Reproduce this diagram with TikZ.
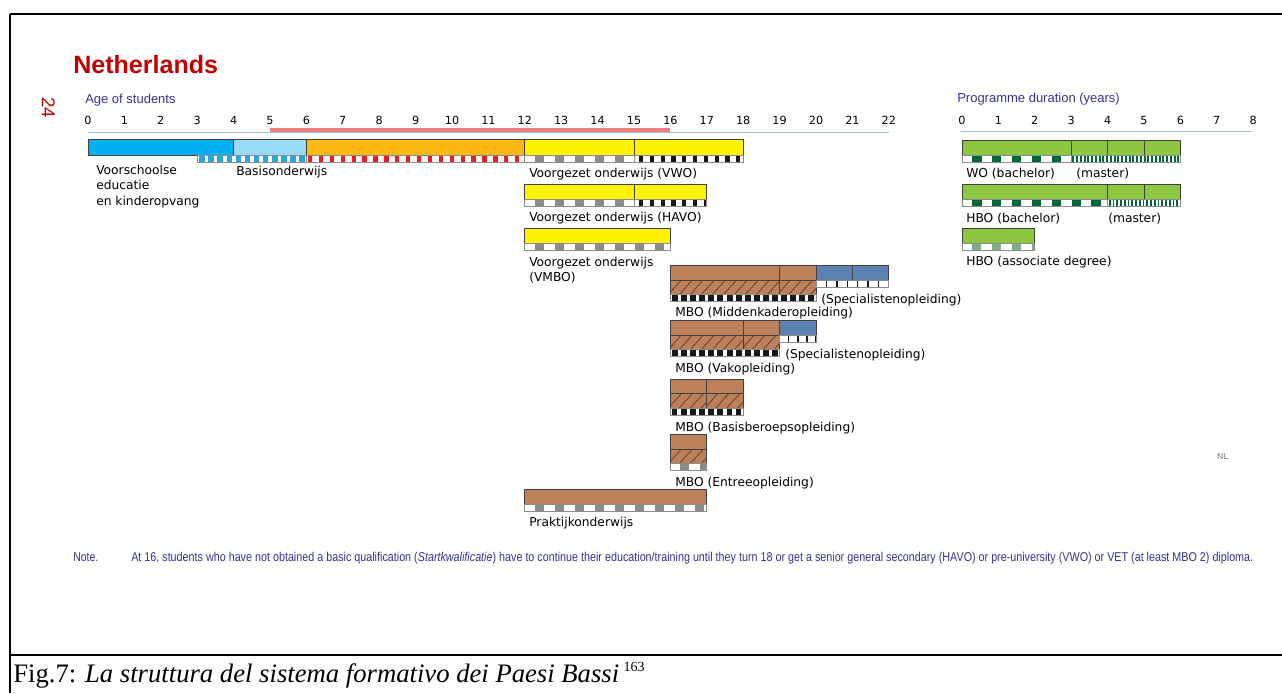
\documentclass[tikz,border=0pt]{standalone}
\usepackage{fontspec}
\usepackage{graphicx}
\setmainfont{Liberation Serif}
\newfontfamily\arialf{Liberation Sans}
\newfontfamily\verdf{DejaVu Sans}
\definecolor{nred}{RGB}{192,0,0}
\definecolor{nblue}{RGB}{51,51,153}
\definecolor{axline}{RGB}{157,195,230}
\definecolor{agered}{RGB}{240,128,128}
\definecolor{cyanbar}{RGB}{0,176,240}
\definecolor{lightcyan}{RGB}{153,217,245}
\definecolor{orangebar}{RGB}{253,185,19}
\definecolor{yellowbar}{RGB}{255,242,0}
\definecolor{greenbar}{RGB}{141,198,63}
\definecolor{brownbar}{RGB}{188,128,90}
\definecolor{specblue}{RGB}{91,130,176}
\definecolor{stripblue}{RGB}{40,165,222}
\definecolor{stripred}{RGB}{237,28,36}
\definecolor{stripgrey}{RGB}{140,140,140}
\definecolor{stripblack}{RGB}{25,25,25}
\definecolor{darkgreen}{RGB}{0,104,55}
\definecolor{lightgreensq}{RGB}{125,175,135}
\definecolor{hatchcol}{RGB}{80,50,30}
\newcommand\barseg[5]{%
  \fill[#5] ({#1},{#3}) rectangle ({#2},{#4});
  \draw[bar] ({#1},{#3}) rectangle ({#2},{#4});}
\newcommand\pstrip[7]{%
  \fill[white] ({#1},{#3}) rectangle ({#2},{#3+7});
  \begin{scope}
    \clip ({#1},{#3}) rectangle ({#2},{#3+7});
    \foreach \k in {0,...,30}{\fill[#7] ({#1+#6+\k*#4},{#3}) rectangle ++(#5,7);}
  \end{scope}
  \draw[stripborder] ({#1},{#3}) rectangle ({#2},{#3+7});}
\newcommand\hatchseg[3]{%
  \fill[brownbar] ({#1},{#3}) rectangle ({#2},{#3+14.5});
  \begin{scope}
    \clip ({#1},{#3}) rectangle ({#2},{#3+14.5});
    \foreach \k in {0,...,16}{\draw[hatchcol,line width=0.45pt] ({#1-13+\k*11},{#3+14.5}) -- ++(13,-14.5);}
  \end{scope}
  \draw[bar] ({#1},{#3}) rectangle ({#2},{#3+14.5});}
\begin{document}
\begin{tikzpicture}[x=0.75pt,y=-0.75pt,
  declare function={ax(\a)=88+36.4*\a; px(\a)=962+36.4*\a;},
  bar/.style={draw=black!75,line width=0.5pt},
  stripborder/.style={draw=black!45,line width=0.5pt},
  lbl/.style={font={\verdf\fontsize{9.2pt}{11.25pt}\selectfont},inner sep=0pt,anchor=base west},
  mlbl/.style={font={\verdf\fontsize{9.2pt}{11.4pt}\selectfont},inner sep=0pt,anchor=north west,align=left},
  num/.style={font={\verdf\fontsize{8.4pt}{10pt}\selectfont},inner sep=0pt,anchor=base},
  head/.style={font={\arialf\fontsize{9.75pt}{11pt}\selectfont},text=nblue,inner sep=0pt,anchor=base west},
  notef/.style={font={\arialf\fontsize{9.6pt}{11pt}\selectfont},text=nblue,inner sep=0pt,anchor=base west}]
\useasboundingbox (0,0) rectangle (1282,693);
% frame
\draw[line width=1.5pt] (10,14) -- (1282,14);
\draw[line width=1pt] (10,14) -- (10,693);
\draw[line width=1.5pt] (10,655) -- (1282,655);
% titles
\node[font={\arialf\bfseries\fontsize{18.8pt}{22pt}\selectfont},text=nred,inner sep=0pt,anchor=base west] (title) at (73,73.3) {Netherlands};
\node[font={\arialf\fontsize{14pt}{14pt}\selectfont},text=nred,rotate=-90,inner sep=0pt] (page) at (48.3,107.5) {24};
\node[head] (agehead) at (85,103.3) {Age of students};
\node[head] (durhead) at (957,102.7) {Programme duration (years)};
% axes
\foreach \k in {0,...,22}{\node[num] (a\k) at ({ax(\k)},124.5) {\k};}
\foreach \k in {0,...,8}{\node[num] (p\k) at ({px(\k)},124.5) {\k};}
\draw[agered,line width=2.6pt] ({ax(5)},130) -- ({ax(16)},130);
\draw[axline,line width=1.1pt] (88,132.6) -- (889,132.6);
\draw[axline,line width=1.1pt] (961,131.7) -- (1252,131.7);
% row 1
\barseg{ax(0)}{ax(4)}{139.5}{155}{cyanbar}
\barseg{ax(4)}{ax(6)}{139.5}{155}{lightcyan}
\barseg{ax(6)}{ax(12)}{139.5}{155}{orangebar}
\barseg{ax(12)}{ax(15)}{139.5}{155}{yellowbar}
\barseg{ax(15)}{ax(18)}{139.5}{155}{yellowbar}
\pstrip{ax(3)}{ax(6)}{155}{9.1}{5.5}{2}{stripblue}
\pstrip{ax(6)}{ax(12)}{155}{10.9}{4.3}{1.5}{stripred}
\pstrip{ax(12)}{ax(15)}{155}{20}{9.5}{10}{stripgrey}
\pstrip{ax(15)}{ax(18)}{155}{10.8}{4.2}{5}{stripblack}
% HAVO
\barseg{ax(12)}{ax(15)}{184}{199}{yellowbar}
\barseg{ax(15)}{ax(17)}{184}{199}{yellowbar}
\pstrip{ax(12)}{ax(15)}{199}{20}{9.5}{10}{stripgrey}
\pstrip{ax(15)}{ax(17)}{199}{10.8}{4.2}{5}{stripblack}
% VMBO
\barseg{ax(12)}{ax(16)}{228}{243}{yellowbar}
\pstrip{ax(12)}{ax(16)}{243}{20}{9}{10}{stripgrey}
% MBO Middenkader
\barseg{ax(16)}{ax(19)}{265}{280}{brownbar}
\barseg{ax(19)}{ax(20)}{265}{280}{brownbar}
\hatchseg{ax(16)}{ax(19)}{280}
\hatchseg{ax(19)}{ax(20)}{280}
\pstrip{ax(16)}{ax(20)}{294.5}{9.1}{6}{1.5}{stripblack}
\barseg{ax(20)}{ax(21)}{265}{280}{specblue}
\barseg{ax(21)}{ax(22)}{265}{280}{specblue}
\pstrip{ax(20)}{ax(22)}{280}{10.4}{1.4}{9.7}{stripblack}
% MBO Vak
\barseg{ax(16)}{ax(18)}{320}{335}{brownbar}
\barseg{ax(18)}{ax(19)}{320}{335}{brownbar}
\hatchseg{ax(16)}{ax(18)}{335}
\hatchseg{ax(18)}{ax(19)}{335}
\pstrip{ax(16)}{ax(19)}{349.5}{9.1}{6}{1.5}{stripblack}
\barseg{ax(19)}{ax(20)}{320}{335}{specblue}
\pstrip{ax(19)}{ax(20)}{335}{9.1}{1.4}{8.4}{stripblack}
% MBO Basis
\barseg{ax(16)}{ax(17)}{379}{393.5}{brownbar}
\barseg{ax(17)}{ax(18)}{379}{393.5}{brownbar}
\hatchseg{ax(16)}{ax(17)}{393.5}
\hatchseg{ax(17)}{ax(18)}{393.5}
\pstrip{ax(16)}{ax(18)}{408}{9.1}{5.5}{1.5}{stripblack}
% MBO Entree
\barseg{ax(16)}{ax(17)}{434}{449}{brownbar}
\hatchseg{ax(16)}{ax(17)}{449}
\pstrip{ax(16)}{ax(17)}{463.5}{20}{9}{10}{stripgrey}
% Praktijk
\barseg{ax(12)}{ax(17)}{489}{504}{brownbar}
\pstrip{ax(12)}{ax(17)}{504}{20}{9}{10}{stripgrey}
% right side
\barseg{px(0)}{px(3)}{140}{155}{greenbar}
\barseg{px(3)}{px(4)}{140}{155}{greenbar}
\barseg{px(4)}{px(5)}{140}{155}{greenbar}
\barseg{px(5)}{px(6)}{140}{155}{greenbar}
\pstrip{px(0)}{px(3)}{155}{19.9}{9.5}{10}{darkgreen}
\pstrip{px(3)}{px(6)}{155}{3.75}{1.9}{1.2}{darkgreen}
\barseg{px(0)}{px(4)}{184}{199}{greenbar}
\barseg{px(4)}{px(5)}{184}{199}{greenbar}
\barseg{px(5)}{px(6)}{184}{199}{greenbar}
\pstrip{px(0)}{px(4)}{199}{19.9}{9.5}{10}{darkgreen}
\pstrip{px(4)}{px(6)}{199}{3.75}{1.9}{1.2}{darkgreen}
\barseg{px(0)}{px(2)}{228}{243}{greenbar}
\pstrip{px(0)}{px(2)}{243}{19.9}{9}{10}{lightgreensq}
% labels
\node[mlbl] (voor) at (96,165.2) {Voorschoolse\\educatie\\en kinderopvang};
\node[lbl] (basis) at (236,175) {Basisonderwijs};
\node[lbl] (vwo) at (529,177) {Voorgezet onderwijs (VWO)};
\node[lbl] (havo) at (529,221) {Voorgezet onderwijs (HAVO)};
\node[mlbl] (vmbo) at (529,257.2) {Voorgezet onderwijs\\(VMBO)};
\node[lbl] (spec1) at (821,303) {(Specialistenopleiding)};
\node[lbl] (midden) at (675,316.5) {MBO (Middenkaderopleiding)};
\node[lbl] (spec2) at (785,358) {(Specialistenopleiding)};
\node[lbl] (vak) at (675,372) {MBO (Vakopleiding)};
\node[lbl] (basisb) at (675,431) {MBO (Basisberoepsopleiding)};
\node[lbl] (entree) at (675,486.5) {MBO (Entreeopleiding)};
\node[lbl] (prak) at (529,526.5) {Praktijkonderwijs};
\node[lbl] (wo) at (966,177.5) {WO (bachelor)};
\node[lbl] (womaster) at (1076,177.5) {(master)};
\node[lbl] (hbo) at (966,222) {HBO (bachelor)};
\node[lbl] (hbomaster) at (1108,222) {(master)};
\node[lbl] (assoc) at (966,265.5) {HBO (associate degree)};
\node[font={\arialf\bfseries\fontsize{6.5pt}{7pt}\selectfont},text=black!40,inner sep=0pt] (nl) at (1223,457) {NL};
% note
\node[notef] (note) at (73,561.5) {\resizebox{18.75pt}{\height}{Note.}};
\node[notef] (notetext) at (131,561.5) {\resizebox{841.5pt}{\height}{At 16, students who have not obtained a basic qualification (\textit{Startkwalificatie}) have to continue their education/training until they turn 18 or get a senior general secondary (HAVO) or pre-university (VWO) or VET (at least MBO 2) diploma.}};
% caption
\node[font={\fontsize{20pt}{22pt}\selectfont},inner sep=0pt,anchor=base west] (caption) at (13,682) {Fig.7: \textit{La struttura del sistema formativo dei Paesi Bassi}\,\raisebox{8pt}{\fontsize{10.5pt}{10.5pt}\selectfont 163}};
\end{tikzpicture}
\end{document}
